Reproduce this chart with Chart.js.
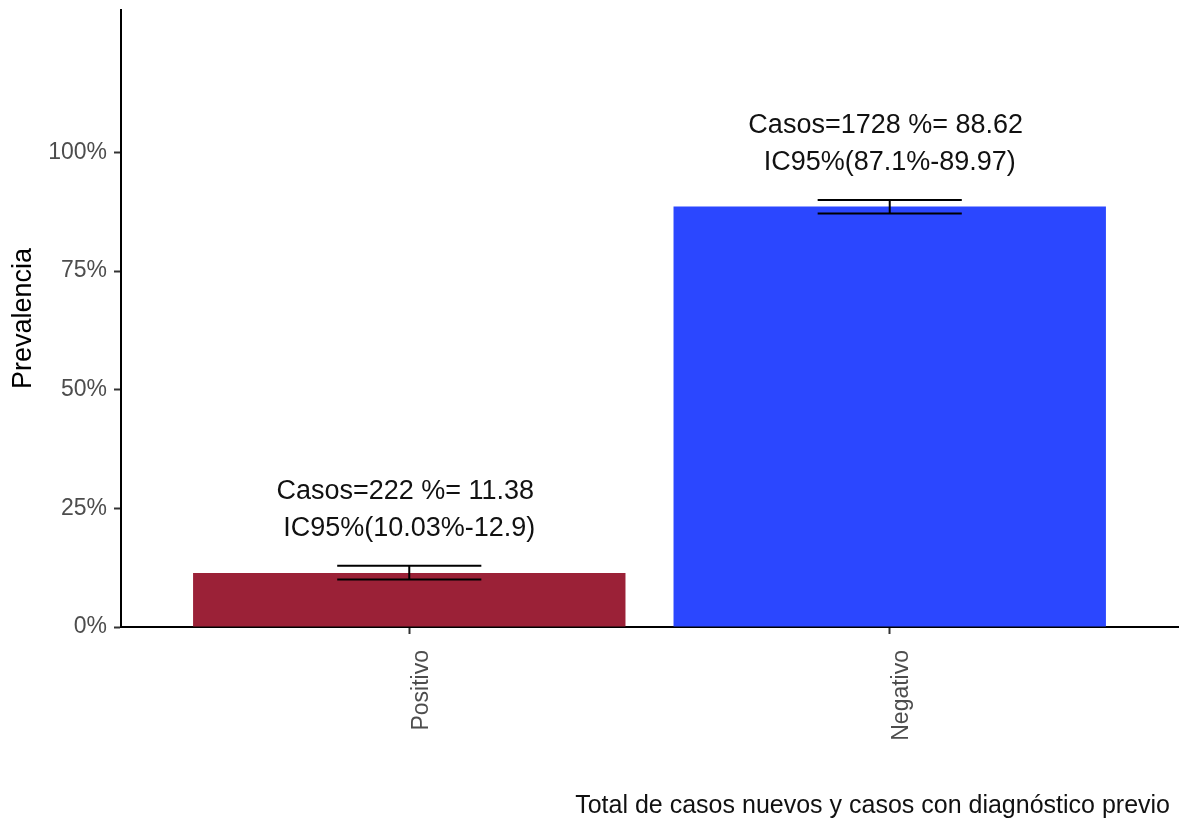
<!DOCTYPE html>
<html>
<head>
<meta charset="utf-8">
<script src="https://cdn.jsdelivr.net/npm/chart.js@4"></script>
<style>
  html, body { margin: 0; padding: 0; background: #fff; }
  #wrap { width: 1193px; height: 823px; }
</style>
</head>
<body>
<div id="wrap"><canvas id="chart" width="1193" height="823"></canvas></div>
<script>
// data
const categories = ['Positivo', 'Negativo']
const casos = [222, 1728]
const prevalencia = [11.38, 88.62]
const icLow = [10.03, 87.1]
const icHigh = [12.9, 89.97]
const icLabels = ['IC95%(10.03%-12.9)', 'IC95%(87.1%-89.97)']
const barColors = ['#9b2137', '#2b47ff']
const yTicks = [0, 25, 50, 75, 100]
const xTitle = 'Total de casos nuevos y casos con diagnóstico previo'

const font = 'Liberation Sans, Arial, sans-serif'

// error bars + text above them, x axis title
const errorBars = {
  id: 'errorBars',
  afterDatasetsDraw(chart) {
    const { ctx, chartArea, scales: { x, y } } = chart
    ctx.save()
    categories.forEach((c, i) => {
      const cx = x.getPixelForValue(i + 1)
      const half = x.getPixelForValue(i + 1.15) - cx
      const yLo = y.getPixelForValue(icLow[i])
      const yHi = y.getPixelForValue(icHigh[i])

      ctx.strokeStyle = '#000'
      ctx.lineWidth = 2
      ctx.beginPath()
      ctx.moveTo(cx - half, yHi); ctx.lineTo(cx + half, yHi)
      ctx.moveTo(cx - half, yLo); ctx.lineTo(cx + half, yLo)
      ctx.moveTo(cx, yHi); ctx.lineTo(cx, yLo)
      ctx.stroke()

      ctx.fillStyle = '#111'
      ctx.font = `27px ${font}`
      ctx.textAlign = 'center'
      ctx.textBaseline = 'middle'
      ctx.fillText(`Casos=${casos[i]} %= ${prevalencia[i]}`, cx - 4, yHi - 74)
      ctx.fillText(icLabels[i], cx, yHi - 37)
    })

    ctx.fillStyle = '#111'
    ctx.font = `25px ${font}`
    ctx.textAlign = 'right'
    ctx.textBaseline = 'middle'
    ctx.fillText(xTitle, chartArea.right - 8, chart.height - 17)
    ctx.restore()
  }
}

const chart = new Chart(document.getElementById('chart'), {
  type: 'bar',
  data: {
    datasets: [{
      data: prevalencia.map((v, i) => ({ x: i + 1, y: v })),
      backgroundColor: barColors,
      borderWidth: 0,
      categoryPercentage: 1,
      barPercentage: 0.9
    }]
  },
  options: {
    responsive: false,
    animation: false,
    layout: { padding: { top: 10, right: 15, left: 0, bottom: 0 } },
    plugins: {
      legend: { display: false },
      tooltip: { enabled: false }
    },
    scales: {
      x: {
        type: 'linear',
        offset: false,
        min: 0.4,
        max: 2.6,
        afterBuildTicks: s => { s.ticks = categories.map((c, i) => ({ value: i + 1 })) },
        afterFit: s => { s.height = 196 },
        grid: { display: true, offset: false, drawOnChartArea: false, tickLength: 7, tickColor: '#333', tickWidth: 2 },
        border: { display: true, color: '#000', width: 2 },
        ticks: {
          autoSkip: false,
          minRotation: 90,
          maxRotation: 90,
          padding: 16,
          labelOffset: 12,
          color: '#4d4d4d',
          font: { family: font, size: 23 },
          callback: v => categories[v - 1]
        }
      },
      y: {
        min: 0,
        max: 130,
        afterBuildTicks: s => { s.ticks = yTicks.map(v => ({ value: v })) },
        afterFit: s => { s.width = 121; s.paddingTop = 0; s.paddingBottom = 0 },
        grid: { display: true, drawOnChartArea: false, tickLength: 7, tickColor: '#333', tickWidth: 2 },
        border: { display: true, color: '#000', width: 2 },
        ticks: {
          padding: 7,
          color: '#4d4d4d',
          font: { family: font, size: 23 },
          callback: v => v + '%'
        },
        title: {
          display: true,
          text: 'Prevalencia',
          color: '#000',
          font: { family: font, size: 27 },
          padding: { top: 7, bottom: 0 }
        }
      }
    }
  },
  plugins: [errorBars]
})
</script>
</body>
</html>
